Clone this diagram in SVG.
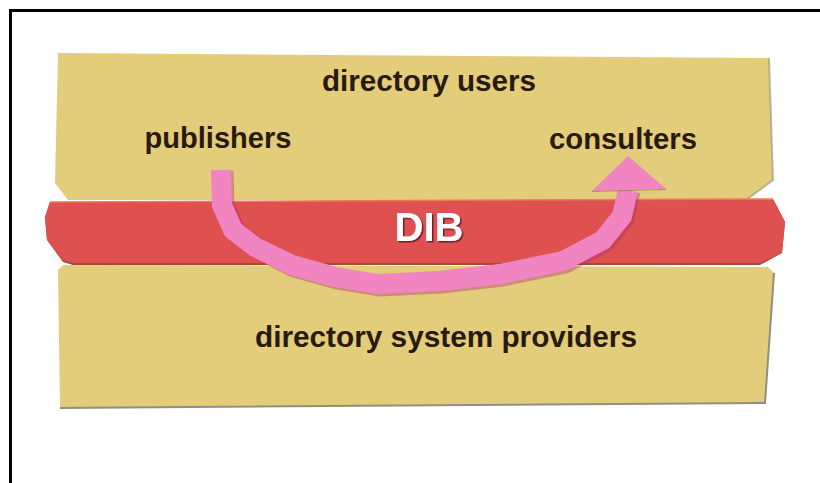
<svg xmlns="http://www.w3.org/2000/svg" width="820" height="483" viewBox="0 0 820 483">
  <defs>
    <filter id="textShadow" x="-10%" y="-10%" width="130%" height="130%">
      <feDropShadow dx="1.5" dy="1.5" stdDeviation="0.6" flood-color="#6A1822" flood-opacity="0.9"/>
    </filter>
  </defs>
  <style>
    .panel { fill: #E3CC7A; }
    .edge { fill: none; stroke: #8E9180; stroke-width: 2; }
    .band { fill: #DF5050; }
    .label { font-family: "Liberation Sans", Arial, sans-serif; font-weight: bold; font-size: 29px; fill: #2A1A0E; }
    .dib { font-family: "Liberation Sans", Arial, sans-serif; font-weight: bold; font-size: 40px; fill: #FFFFFF; filter: url(#textShadow); }
    .flow { fill: none; stroke: #F085C2; stroke-width: 20; stroke-linejoin: miter; stroke-miterlimit: 6; }
    .flow-shadow { fill: none; stroke: #A8306A; stroke-width: 21; stroke-linejoin: miter; stroke-miterlimit: 6; opacity: 0.4; }
  </style>

  <rect width="820" height="483" fill="#FFFFFF"/>

  <!-- frame: top and left rules only, running off the right and bottom edges -->
  <path d="M10.5,483 L10.5,10.5 L820,10.5" fill="none" stroke="#000000" stroke-width="3"/>

  <!-- upper layer: directory users -->
  <g id="directory-users">
    <polygon class="panel" points="58,53 769,58 773,180 746,200 68,200 55,183"/>
    <path class="edge" d="M769,58 L773,180 L746,200" stroke-width="1.2" opacity="0.6"/>
    <text class="label" x="429" y="91" text-anchor="middle" textLength="214" lengthAdjust="spacingAndGlyphs">directory users</text>
  </g>

  <g id="publishers">
    <text class="label" x="218" y="148" text-anchor="middle" textLength="147" lengthAdjust="spacingAndGlyphs">publishers</text>
  </g>

  <g id="consulters">
    <text class="label" x="623" y="149" text-anchor="middle" textLength="148" lengthAdjust="spacingAndGlyphs">consulters</text>
  </g>

  <!-- lower layer: directory system providers -->
  <g id="directory-system-providers">
    <polygon class="panel" points="63,265 768,267 774,273 765,403 60,408 58,270"/>
    <path class="edge" d="M774,273 L765,403 L60,408"/>
    <text class="label" x="446" y="347" text-anchor="middle" textLength="382" lengthAdjust="spacingAndGlyphs">directory system providers</text>
  </g>

  <!-- middle layer: DIB -->
  <g id="dib">
    <polygon points="50,202 773,199 785,222 782,253 760,265 73,265 63,262 47,240 45,217" fill="#A24A32"/>
    <polygon class="band" points="50,202 773,199 785,222 782,253 760,263 73,263 63,260 47,240 45,217"/>
    <path d="M50,202 L773,199" fill="none" stroke="#F07A50" stroke-width="1.5"/>
    <text class="dib" x="429" y="241" text-anchor="middle" textLength="69" lengthAdjust="spacingAndGlyphs">DIB</text>
  </g>

  <!-- connector: publishers to consulters through the DIB -->
  <g id="connectors">
    <path class="flow-shadow" d="M222,170 L223,205 L234,230 L256,247 L293,266 L336,278 L379,285 L441,282 L501,275 L564,262 L604,241 L623,217 L629,190" transform="translate(1,1)"/>
    <path class="flow" d="M221,170 L222,205 L233,230 L255,247 L292,265 L335,277 L378,284 L440,281 L500,274 L563,261 L603,240 L622,216 L628,190"/>
    <polygon points="592,191 628,156 666,189" fill="#F085C2"/>
    <path d="M592,191.5 L666,189.5" fill="none" stroke="#8A7040" stroke-width="1" opacity="0.6"/>
  </g>
</svg>
